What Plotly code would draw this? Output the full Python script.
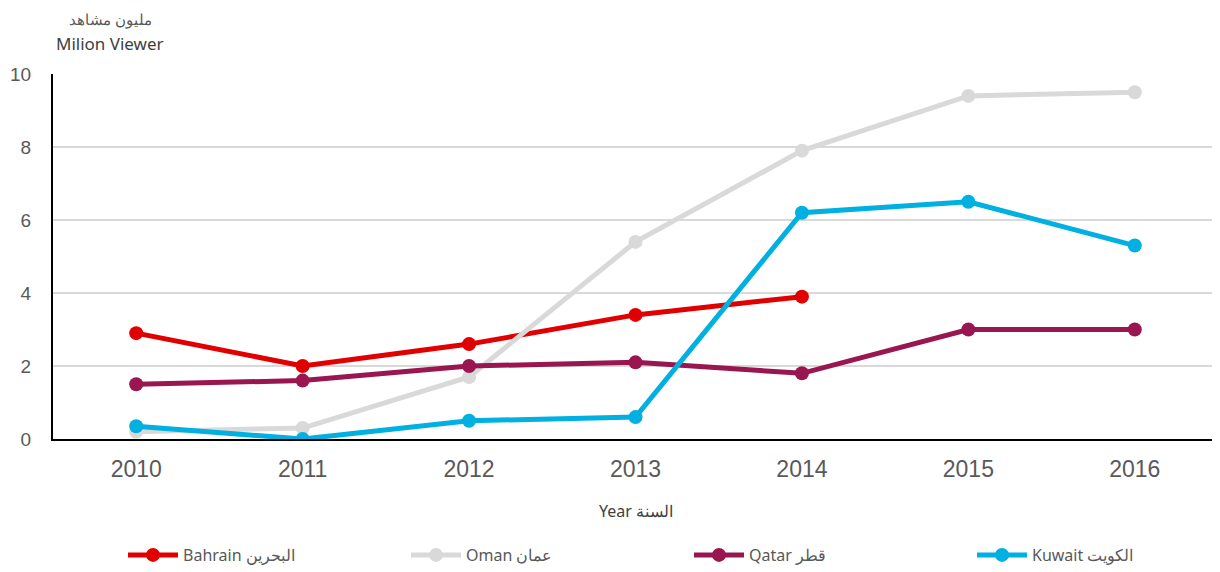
import plotly.graph_objects as go

# 年（カテゴリ）
years = ['2010', '2011', '2012', '2013', '2014', '2015', '2016']

# 系列データ（百万人）
bahrain = [2.9, 2.0, 2.6, 3.4, 3.9, None, None]
oman = [0.2, 0.3, 1.7, 5.4, 7.9, 9.4, 9.5]
qatar = [1.5, 1.6, 2.0, 2.1, 1.8, 3.0, 3.0]
kuwait = [0.35, 0.0, 0.5, 0.6, 6.2, 6.5, 5.3]

series_names = ['Bahrain البحرين', 'Oman عمان', 'Qatar قطر', 'Kuwait الكويت']
series_colors = ['#E00000', '#D9D9D9', '#9A1650', '#00B0E0']

FONT = 'Liberation Sans, Arial, sans-serif'
TEXT_FONT = 'Noto Sans, Open Sans, sans-serif'

fig = go.Figure()
for name, values, color in zip(series_names, [bahrain, oman, qatar, kuwait], series_colors):
    fig.add_trace(go.Scatter(
        x=years,
        y=values,
        name=name,
        mode='lines+markers',
        line=dict(color=color, width=5),
        marker=dict(color=color, size=14),
        connectgaps=False,
    ))

# ページ余白(8px)を考慮した配置
fig.update_layout(
    width=1220,
    height=572,
    plot_bgcolor='white',
    paper_bgcolor='white',
    margin=dict(l=45, r=10, t=66, b=141, autoexpand=False),
    font=dict(family=FONT, color='#595959', size=17),
    showlegend=True,
    legend=dict(
        orientation='h',
        xref='container',
        yref='container',
        x=115 / 1220,
        xanchor='left',
        y=1 - 547 / 572,
        yanchor='middle',
        font=dict(family=TEXT_FONT, size=16, color='#595959'),
        itemwidth=50,
        entrywidthmode='pixels',
        entrywidth=218,
    ),
    xaxis=dict(
        type='category',
        range=[-0.5, 6.5],
        showline=True,
        linecolor='black',
        linewidth=2,
        showgrid=False,
        ticks='',
        automargin=False,
        tickfont=dict(family=FONT, size=23, color='#595959'),
        ticklabelstandoff=8,
    ),
    yaxis=dict(
        range=[0, 10],
        dtick=2,
        showline=True,
        linecolor='black',
        linewidth=2,
        showgrid=True,
        gridcolor='#D9D9D9',
        gridwidth=1.5,
        zeroline=False,
        ticks='',
        automargin=False,
        tickfont=dict(family=FONT, size=19, color='#595959'),
        ticklabelstandoff=16,
    ),
)

# x軸タイトル
fig.add_annotation(text='Year السنة', xref='paper', yref='paper', x=0.5, y=-72 / 365,
                   xanchor='center', yanchor='middle', showarrow=False,
                   font=dict(family=TEXT_FONT, size=16, color='#404040'))

# y軸タイトル（左上）
fig.add_annotation(text='مليون مشاهد', xref='paper', yref='paper', x=57 / 1165, y=420 / 365,
                   xanchor='center', yanchor='middle', showarrow=False,
                   font=dict(family=TEXT_FONT, size=15, color='#595959'))
fig.add_annotation(text='Milion Viewer', xref='paper', yref='paper', x=57 / 1165, y=396 / 365,
                   xanchor='center', yanchor='middle', showarrow=False,
                   font=dict(family=TEXT_FONT, size=17, color='#404040'))

fig.write_html('out.html')
